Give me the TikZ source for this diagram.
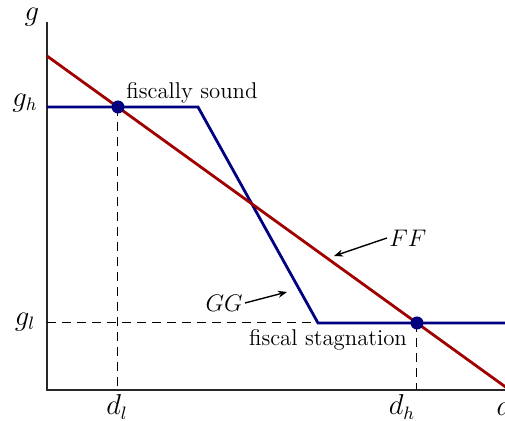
\documentclass[tikz,border=0pt]{standalone}
\usetikzlibrary{arrows.meta}
\definecolor{ffred}{RGB}{160,0,0}
\definecolor{ggblue}{RGB}{0,0,128}
\definecolor{axgray}{RGB}{40,40,40}
\begin{document}
\begin{tikzpicture}[x=0.5pt,y=-0.5pt,
  lbl/.style={font=\fontsize{11.4}{13}\selectfont, inner sep=1pt},
  mlbl/.style={font=\fontsize{13.5}{15}\selectfont, inner sep=1pt},
  clbl/.style={font=\fontsize{12}{14}\selectfont, inner sep=1pt},
  curveff/.style={ffred, line width=1.4pt},
  curvegg/.style={ggblue, line width=1.4pt},
  guide/.style={line width=0.5pt, dash pattern=on 4.5pt off 3pt},
  dot/.style={circle, fill=ggblue, inner sep=0pt, minimum size=6.5pt},
  pointer/.style={-{Stealth[length=4.5pt,width=3.5pt]}, line width=0.7pt}]
\useasboundingbox (0,0) rectangle (505,421);
% axes
\coordinate (O) at (47,390);
\coordinate (ytop) at (47,22);
\coordinate (xend) at (510,390);
\draw[axgray, line width=1pt] (ytop) -- (O) -- (xend);
% key coordinates
\coordinate (F0) at (47,56);
\coordinate (F1) at (510,390.2);
\coordinate (G0) at (47,107);
\coordinate (G1) at (198,107);
\coordinate (G2) at (318,323);
\coordinate (G3) at (510,323);
\coordinate (Pl) at (118,107);
\coordinate (Ph) at (417,323);
\coordinate (Al) at (118,390);
\coordinate (Ah) at (417,390);
\coordinate (Yl) at (47,323);
% dashed guides
\draw[guide] (Pl) -- (Al);
\draw[guide] (Ph) -- (Ah);
\draw[guide] (Yl) -- (G2);
% curves
\draw[curvegg] (G0) -- (G1) -- (G2) -- (G3);
\draw[curveff] (F0) -- (F1);
\node[dot] (dl) at (Pl) {};
\node[dot] (dh) at (Ph) {};
% axis labels
\node[mlbl] (g) at (32,17) {$g$};
\node[mlbl] (gh) at (25,103) {$g_h$};
\node[mlbl] (gl) at (25,322) {$g_l$};
\node[mlbl] (dlab) at (117,407) {$d_l$};
\node[mlbl] (dhlab) at (402,407) {$d_h$};
\node[mlbl] (d) at (504,406) {$d$};
% text labels
\node[lbl, anchor=west] (sound) at (124,93) {fiscally sound};
\node[lbl] (stag) at (328,340) {fiscal stagnation};
\node[clbl, anchor=west] (FF) at (387,238) {$FF$};
\node[clbl, anchor=east] (GG) at (245,303) {$GG$};
\coordinate (FFtip) at (334,256);
\coordinate (GGtip) at (287,292);
\draw[pointer] (FF.west) -- (FFtip);
\draw[pointer] (GG.east) -- (GGtip);
\end{tikzpicture}
\end{document}
